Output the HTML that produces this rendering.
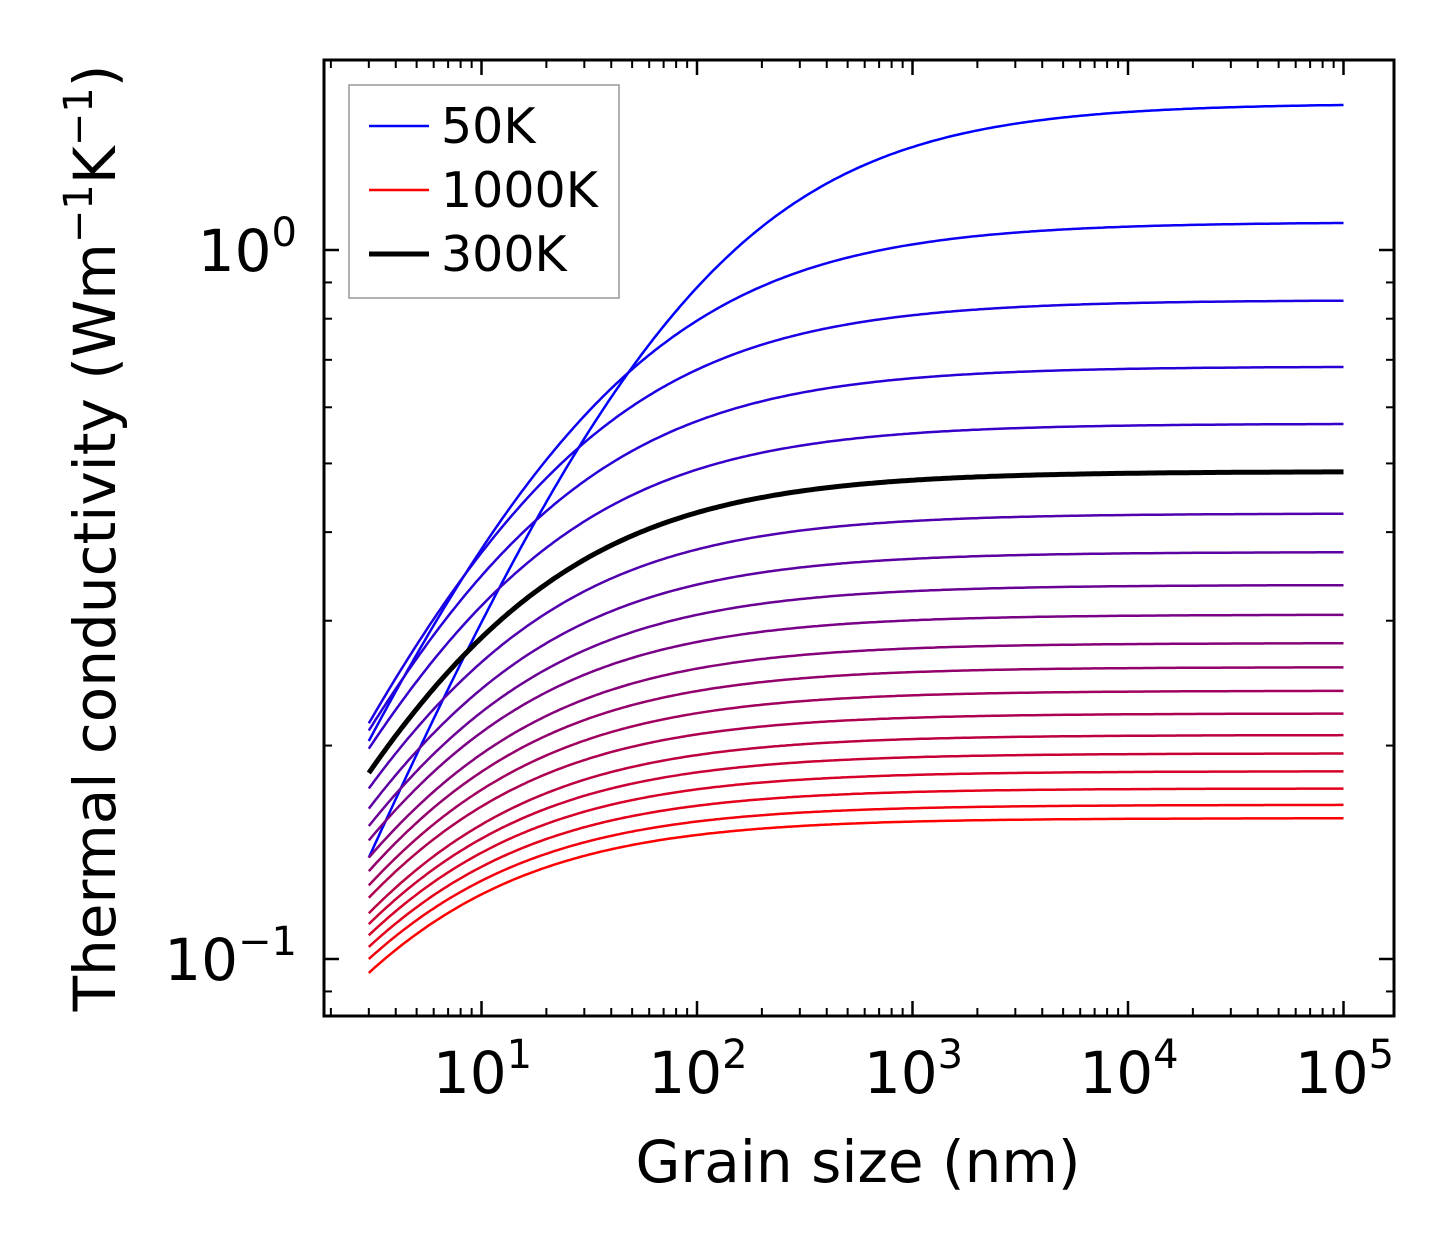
<!DOCTYPE html>
<html><head><meta charset="utf-8"><style>
body{margin:0;background:#fff;}
svg text{font-family:"DejaVu Sans","Liberation Sans",sans-serif;fill:#000;}
</style></head><body>
<svg id="chart" width="1454" height="1254" xmlns="http://www.w3.org/2000/svg">
<g id="curves"></g>
<g id="ticks"></g>
<rect x="324" y="60" width="1070" height="956" fill="none" stroke="#000" stroke-width="3"/>
<g>
<rect x="349" y="85" width="270" height="213" fill="#fff" stroke="#999" stroke-width="1.5"/>
<line x1="369" y1="126" x2="429" y2="126" stroke="#0000ff" stroke-width="2.5"/>
<text x="441" y="143" font-size="49">50K</text>
<line x1="369" y1="190" x2="429" y2="190" stroke="#ff0000" stroke-width="2.5"/>
<text x="441" y="207" font-size="49">1000K</text>
<line x1="369" y1="254" x2="429" y2="254" stroke="#000" stroke-width="5"/>
<text x="441" y="271" font-size="49">300K</text>
</g>
<text x="858" y="1182" font-size="58" text-anchor="middle">Grain size (nm)</text>
<text transform="translate(115,538) rotate(-90)" font-size="58" text-anchor="middle">Thermal conductivity (Wm<tspan font-size="40" dy="-23">−1</tspan><tspan dy="23">K</tspan><tspan font-size="40" dy="-23">−1</tspan><tspan dy="23">)</tspan></text>
</svg>
<script>
const temperatures=[50,100,150,200,250,300,350,400,450,500,550,600,650,700,750,800,850,900,950,1000];
const plateauK=[1.61,1.095,0.85,0.685,0.569,0.487,0.425,0.375,0.337,0.306,0.279,0.258,0.239,0.222,0.207,0.195,0.184,0.174,0.165,0.158];
const startK=[0.139,0.203,0.215,0.210,0.198,0.183,0.174,0.163,0.154,0.147,0.139,0.133,0.127,0.122,0.116,0.112,0.108,0.104,0.1,0.0956];
const shapeP=[0.73,0.7,0.7,0.7,0.7,0.7,0.7,0.7,0.7,0.7,0.7,0.7,0.7,0.7,0.7,0.7,0.7,0.7,0.7,0.7];
const xTickExps=[1,2,3,4,5];
const yTickExps=[-1,0];
const dMin=3,dMax=1e5;
const NS="http://www.w3.org/2000/svg";
function X(d){return 481.5+(Math.log10(d)-1)*215.5;}
function Y(k){return 250-Math.log10(k)*709;}
const cg=document.getElementById('curves');
function kappa(i,d){const kinf=plateauK[i],k0=startK[i],p=shapeP[i];const L=dMin*Math.pow(kinf/k0-1,1/p);return kinf/(1+Math.pow(L/d,p));}
const order=temperatures.map((t,i)=>i).filter(i=>temperatures[i]!==300).concat(temperatures.indexOf(300));
order.forEach(i=>{
  let pts=[];
  for(let s=0;s<=300;s++){const d=Math.pow(10,Math.log10(dMin)+s/300*(Math.log10(dMax)-Math.log10(dMin)));pts.push(X(d).toFixed(1)+','+Y(kappa(i,d)).toFixed(1));}
  const t=(temperatures[i]-50)/950;
  const pl=document.createElementNS(NS,'polyline');
  pl.setAttribute('points',pts.join(' '));
  pl.setAttribute('fill','none');
  const is300=temperatures[i]===300;
  pl.setAttribute('stroke',is300?'#000':`rgb(${Math.round(255*t)},0,${Math.round(255*(1-t))})`);
  pl.setAttribute('stroke-width',is300?5:2.5);
  
  
  cg.appendChild(pl);
});
const tg=document.getElementById('ticks');
function ln(x1,y1,x2,y2,w){const l=document.createElementNS(NS,'line');l.setAttribute('x1',x1);l.setAttribute('y1',y1);l.setAttribute('x2',x2);l.setAttribute('y2',y2);l.setAttribute('stroke','#000');l.setAttribute('stroke-width',w);tg.appendChild(l);}
function lbl(x,y,e,anchor){const t=document.createElementNS(NS,'text');t.setAttribute('x',x);t.setAttribute('y',y);t.setAttribute('font-size','58');t.setAttribute('text-anchor',anchor);


t.innerHTML='10<tspan font-size="40" dy="-25">'+(e<0?'−'+(-e):e)+'</tspan>';tg.appendChild(t);}
for(let e=0;e<=5;e++){for(let m=1;m<10;m++){const x=X(m*Math.pow(10,e));if(x<326||x>1392)continue;
 const L=m===1?15:8,w=m===1?2.5:2;ln(x,1016,x,1016-L,w);ln(x,60,x,60+L,w);}}
xTickExps.forEach(e=>lbl(X(Math.pow(10,e))+1,1093,e,'middle'));
for(let e=-2;e<=0;e++){for(let m=1;m<10;m++){const y=Y(m*Math.pow(10,e));if(y<62||y>1014)continue;
 const L=m===1?15:8,w=m===1?2.5:2;ln(324,y,324+L,y,w);ln(1394,y,1394-L,y,w);}}
yTickExps.forEach(e=>lbl(297,Y(Math.pow(10,e))+21,e,'end'));
</script>
</body></html>
